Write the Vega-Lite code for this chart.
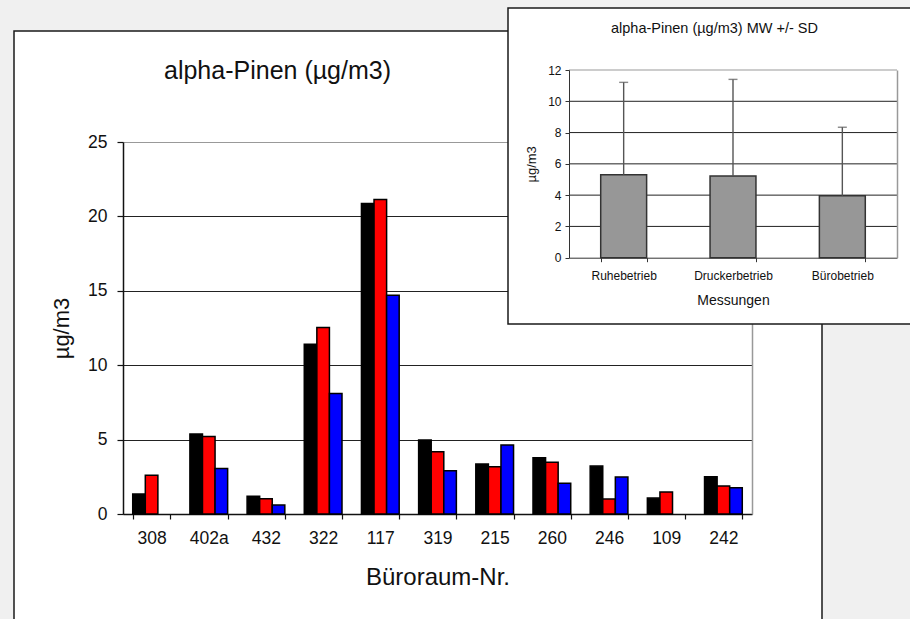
{
  "$schema": "https://vega.github.io/schema/vega-lite/v6.json",
  "autosize": {"type": "none"},
  "width": 808,
  "height": 588,
  "padding": {"left": 14, "top": 31, "right": 88, "bottom": 0},
  "background": "#f0f0f0",
  "view": {"fill": "white", "stroke": "#1a1a1a", "strokeWidth": 1.5, "strokeDash": [1396, 808, 588, 10]},
  "config": {
    "font": "Liberation Sans",
    "axis": {"labelColor": "#111111", "titleColor": "#111111", "titleFontWeight": "normal", "domainColor": "#111111", "tickColor": "#111111"}
  },
  "datasets": {
    "raeume": [
      {"Raum": "308", "Messung": "Ruhebetrieb", "Wert": 1.34},
      {"Raum": "308", "Messung": "Druckerbetrieb", "Wert": 2.6},
      {"Raum": "402a", "Messung": "Ruhebetrieb", "Wert": 5.37},
      {"Raum": "402a", "Messung": "Druckerbetrieb", "Wert": 5.2},
      {"Raum": "402a", "Messung": "Bürobetrieb", "Wert": 3.05},
      {"Raum": "432", "Messung": "Ruhebetrieb", "Wert": 1.2},
      {"Raum": "432", "Messung": "Druckerbetrieb", "Wert": 1.03},
      {"Raum": "432", "Messung": "Bürobetrieb", "Wert": 0.6},
      {"Raum": "322", "Messung": "Ruhebetrieb", "Wert": 11.4},
      {"Raum": "322", "Messung": "Druckerbetrieb", "Wert": 12.54},
      {"Raum": "322", "Messung": "Bürobetrieb", "Wert": 8.1},
      {"Raum": "117", "Messung": "Ruhebetrieb", "Wert": 20.86},
      {"Raum": "117", "Messung": "Druckerbetrieb", "Wert": 21.13},
      {"Raum": "117", "Messung": "Bürobetrieb", "Wert": 14.7},
      {"Raum": "319", "Messung": "Ruhebetrieb", "Wert": 4.97},
      {"Raum": "319", "Messung": "Druckerbetrieb", "Wert": 4.18},
      {"Raum": "319", "Messung": "Bürobetrieb", "Wert": 2.9},
      {"Raum": "215", "Messung": "Ruhebetrieb", "Wert": 3.36},
      {"Raum": "215", "Messung": "Druckerbetrieb", "Wert": 3.18},
      {"Raum": "215", "Messung": "Bürobetrieb", "Wert": 4.63},
      {"Raum": "260", "Messung": "Ruhebetrieb", "Wert": 3.78},
      {"Raum": "260", "Messung": "Druckerbetrieb", "Wert": 3.47},
      {"Raum": "260", "Messung": "Bürobetrieb", "Wert": 2.06},
      {"Raum": "246", "Messung": "Ruhebetrieb", "Wert": 3.22},
      {"Raum": "246", "Messung": "Druckerbetrieb", "Wert": 1.0},
      {"Raum": "246", "Messung": "Bürobetrieb", "Wert": 2.48},
      {"Raum": "109", "Messung": "Ruhebetrieb", "Wert": 1.07},
      {"Raum": "109", "Messung": "Druckerbetrieb", "Wert": 1.48},
      {"Raum": "242", "Messung": "Ruhebetrieb", "Wert": 2.5},
      {"Raum": "242", "Messung": "Druckerbetrieb", "Wert": 1.88},
      {"Raum": "242", "Messung": "Bürobetrieb", "Wert": 1.77}
    ],
    "messungen": [
      {"Messung": "Ruhebetrieb", "MW": 5.31, "MW_plus_SD": 11.21},
      {"Messung": "Druckerbetrieb", "MW": 5.22, "MW_plus_SD": 11.4},
      {"Messung": "Bürobetrieb", "MW": 3.96, "MW_plus_SD": 8.34}
    ],
    "raster": [
      {"Stufe": 2}, {"Stufe": 4}, {"Stufe": 6}, {"Stufe": 8}, {"Stufe": 10}, {"Stufe": 12}
    ],
    "rahmen": [{"Kasten": "Einschub"}]
  },
  "layer": [
    {
      "data": {"name": "raeume"},
      "mark": {"type": "bar", "stroke": "#000000", "strokeWidth": 1.5},
      "encoding": {
        "x": {
          "field": "Raum", "type": "nominal",
          "sort": ["308", "402a", "432", "322", "117", "319", "215", "260", "246", "109", "242"],
          "scale": {"range": [109, 738], "paddingInner": 0.34, "paddingOuter": 0.17},
          "axis": {"orient": "bottom", "offset": -105, "title": "Büroraum-Nr.", "titleFontSize": 24, "titlePadding": 19, "labelFontSize": 17.5, "labelAngle": 0, "labelPadding": 10, "tickSize": 5, "tickBand": "extent", "grid": false, "domainWidth": 1.5, "tickWidth": 1.2}
        },
        "xOffset": {
          "field": "Messung", "type": "nominal",
          "scale": {"domain": ["Ruhebetrieb", "Druckerbetrieb", "Bürobetrieb"], "paddingInner": 0, "paddingOuter": 0}
        },
        "y": {
          "field": "Wert", "type": "quantitative",
          "scale": {"domain": [0, 25], "range": [483, 111], "nice": false},
          "axis": {"orient": "left", "offset": -109, "title": "µg/m3", "titleFontSize": 22, "titlePadding": 14, "labelFontSize": 17.5, "labelPadding": 10, "tickSize": 6, "values": [0, 5, 10, 15, 20, 25], "grid": true, "gridColor": {"condition": {"test": "datum.value === 25", "value": "#999999"}, "value": "#222222"}, "gridWidth": 1.2, "domainWidth": 1.5, "tickWidth": 1.2}
        },
        "color": {
          "field": "Messung", "type": "nominal",
          "scale": {"domain": ["Ruhebetrieb", "Druckerbetrieb", "Bürobetrieb"], "range": ["#000000", "#ff0000", "#0000ff"]},
          "legend": null
        }
      }
    },
    {
      "data": {"name": "raeume"},
      "mark": {"type": "bar", "opacity": 0},
      "encoding": {
        "x": {
          "field": "Raum", "type": "nominal",
          "sort": ["308", "402a", "432", "322", "117", "319", "215", "260", "246", "109", "242"],
          "scale": {"range": [109, 738], "paddingInner": 0.34, "paddingOuter": 0.17},
          "axis": {"orient": "top", "offset": 0, "domain": false, "ticks": false, "labels": false, "grid": false, "title": "alpha-Pinen (µg/m3)", "titleFontSize": 25, "titleX": 263, "titleY": 47, "titleBaseline": "alphabetic", "titleAlign": "center"}
        },
        "y": {
          "field": "Wert", "type": "quantitative",
          "scale": {"domain": [0, 25], "range": [483, 111], "nice": false},
          "axis": {"orient": "right", "offset": -70, "domainColor": "#999999", "domainWidth": 1.5, "ticks": false, "labels": false, "grid": false, "title": null}
        }
      }
    },
    {
      "data": {"name": "rahmen"},
      "mark": {"type": "rect", "fill": "white", "stroke": "#1a1a1a", "strokeWidth": 1.5},
      "encoding": {
        "x": {"datum": 0, "type": "quantitative", "scale": {"domain": [0, 1], "range": [494, 900]}, "axis": null},
        "x2": {"datum": 1},
        "y": {"datum": 0, "type": "quantitative", "scale": {"domain": [0, 1], "range": [-23, 293]}, "axis": null},
        "y2": {"datum": 1}
      }
    },
    {
      "data": {"name": "raster"},
      "mark": {"type": "rule", "strokeWidth": 1},
      "encoding": {
        "x": {"datum": 0, "type": "quantitative", "scale": {"domain": [0, 1], "range": [555, 883]}, "axis": null},
        "x2": {"datum": 1},
        "y": {"field": "Stufe", "type": "quantitative", "scale": {"domain": [0, 12], "range": [226.7, 39], "nice": false}, "axis": null},
        "color": {"condition": {"test": "datum.Stufe === 12", "value": "#999999"}, "value": "#222222"}
      }
    },
    {
      "data": {"name": "messungen"},
      "mark": {"type": "bar", "fill": "#979797", "stroke": "#333333", "strokeWidth": 1.5},
      "encoding": {
        "x": {
          "field": "Messung", "type": "nominal", "sort": null,
          "scale": {"range": [555, 883], "paddingInner": 0.58, "paddingOuter": 0.29},
          "axis": {"orient": "bottom", "offset": -361.3, "zindex": 1, "title": "Messungen", "titleFontSize": 14, "titlePadding": 12, "labelFontSize": 12, "labelAngle": 0, "labelPadding": 9, "tickSize": 4, "tickBand": "extent", "grid": false, "domainColor": "#333333", "tickColor": "#333333"}
        },
        "y": {
          "field": "MW", "type": "quantitative",
          "scale": {"domain": [0, 12], "range": [226.7, 39], "nice": false},
          "axis": {"orient": "left", "offset": -555, "zindex": 1, "title": "µg/m3", "titleFontSize": 13, "titlePadding": 9, "labelFontSize": 12, "labelPadding": 4, "tickSize": 4, "values": [0, 2, 4, 6, 8, 10, 12], "grid": false, "domainColor": "#333333", "tickColor": "#333333"}
        }
      }
    },
    {
      "data": {"name": "messungen"},
      "mark": {"type": "rule", "color": "#555555", "strokeWidth": 1.4},
      "encoding": {
        "x": {
          "field": "Messung", "type": "nominal", "sort": null,
          "scale": {"range": [555, 883], "paddingInner": 0.58, "paddingOuter": 0.29},
          "axis": {"orient": "top", "offset": 0, "zindex": 1, "domain": false, "ticks": false, "labels": false, "grid": false, "title": "alpha-Pinen (µg/m3) MW +/- SD", "titleFontSize": 14.5, "titleX": 700, "titleY": 1.3, "titleBaseline": "alphabetic", "titleAlign": "center"}
        },
        "y": {
          "field": "MW", "type": "quantitative",
          "scale": {"domain": [0, 12], "range": [226.7, 39], "nice": false},
          "axis": {"orient": "right", "offset": 75, "zindex": 1, "domainColor": "#999999", "domainWidth": 1.5, "ticks": false, "labels": false, "grid": false, "title": null}
        },
        "y2": {"field": "MW_plus_SD"}
      }
    },
    {
      "data": {"name": "messungen"},
      "mark": {"type": "tick", "color": "#555555", "thickness": 1.4, "size": 9},
      "encoding": {
        "x": {
          "field": "Messung", "type": "nominal", "sort": null,
          "scale": {"range": [555, 883], "paddingInner": 0.58, "paddingOuter": 0.29},
          "axis": null
        },
        "y": {
          "field": "MW_plus_SD", "type": "quantitative",
          "scale": {"domain": [0, 12], "range": [226.7, 39], "nice": false},
          "axis": null
        }
      }
    }
  ],
  "resolve": {"scale": {"x": "independent", "y": "independent"}}
}
